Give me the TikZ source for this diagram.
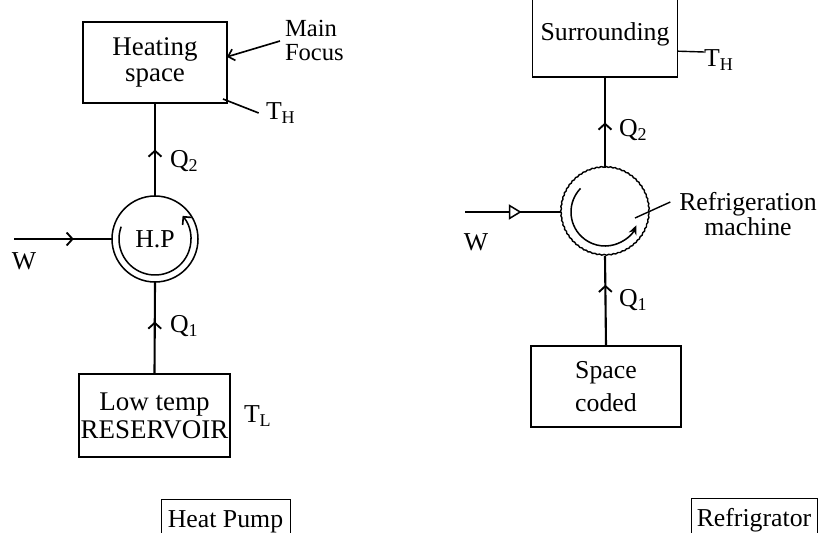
\documentclass[tikz,border=0pt]{standalone}
\usepackage{fontspec}
\setmainfont{Liberation Serif}
\usetikzlibrary{arrows.meta, calc, positioning, decorations.markings, decorations.pathmorphing}

\begin{document}
\begin{tikzpicture}[x=0.03cm, y=-0.03cm,
  every node/.style={font=\fontsize{22}{24}\selectfont, inner sep=0pt, outer sep=0pt},
  box/.style={draw, line width=1.3pt, align=center},
  titlebox/.style={draw, line width=0.8pt, anchor=north, minimum height=1.36cm},
  flow/.style={line width=1.8pt},
  barb/.style={-{Straight Barb[length=5pt, width=10pt, line width=1.4pt]}},
  vmark/.style={postaction={decorate}, decoration={markings,
    mark=at position #1 with {\arrow{Straight Barb[length=5pt, width=11pt, line width=1.6pt]}}}},
  tmark/.style={postaction={decorate}, decoration={markings,
    mark=at position #1 with {\arrow{Triangle[open, length=11pt, width=13pt, line width=1.3pt, fill=white]}}}}
]
\useasboundingbox (0,0) rectangle (819,532);

% ---------- Heat pump ----------
\node[box, minimum width=4.32cm, minimum height=2.43cm,
  font=\fontsize{23}{21.5}\selectfont] (hs) at (155,62.5) {Heating\\space};
\node[circle, draw, line width=1.3pt, minimum size=2.58cm] (hp) at (155,239) {H.P};
\node[box, minimum width=4.53cm, minimum height=2.49cm,
  font=\fontsize{23}{24}\selectfont] (lt) at (154.5,415.5) {Low temp\\RESERVOIR};

% inner cycle arrow
\draw[line width=1.3pt, barb] ($(hp.center)+(160:1.08cm)$)
  arc[start angle=160, end angle=400, radius=1.08cm];

% heat flows and work
\draw[flow, vmark=0.5] (hp.north) -- (hs.south);
\draw[flow, vmark=0.57] (lt.north) -- (hp.south);
\coordinate (wl) at (14,239);
\draw[flow, vmark=0.61] (wl) -- (hp.west);

\node[anchor=west] (q2l) at (170,161) {Q\textsubscript{2}};
\node[anchor=west] (q1l) at (170,326) {Q\textsubscript{1}};
\node (wlab) at (24,261) {W};

% labels round the boxes
\node[anchor=north west, align=left, font=\fontsize{21}{21}\selectfont] (mf) at (285,20) {Main\\Focus};
\coordinate (mfa) at (280,41);
\draw[line width=1.4pt, barb] (mfa) -- ([yshift=0.17cm]hs.east);
\node[anchor=west] (thl) at (266,113) {T\textsubscript{H}};
\draw[line width=1.4pt] ([shift={(-4,-4)}]hs.south east) -- ([xshift=-0.22cm]thl.west);
\node[anchor=west] (tl) at (244,416) {T\textsubscript{L}};

\node[titlebox, minimum width=3.87cm] (hpt) at (225.5,499) {Heat Pump};

% ---------- Refrigerator ----------
\node[box, minimum width=4.35cm, minimum height=2.55cm] (sur) at (605,34.5) {Surrounding};
\node[circle, minimum size=2.64cm] (rm) at (605,212) {};
\draw[line width=1.2pt, decorate, decoration={snake, amplitude=0.35pt, segment length=4pt}]
  (rm.center) circle[radius=1.32cm];
\node[box, minimum width=4.5cm, minimum height=2.43cm,
  font=\fontsize{22}{28}\selectfont] (sc) at (606,386.5) {Space\\coded};

% inner cycle arrow
\draw[line width=1.3pt, -{Stealth[length=8pt, width=7pt]}] ($(rm.center)+(136:1.02cm)$)
  arc[start angle=136, end angle=337, radius=1.02cm];

% heat flows and work
\draw[flow, vmark=0.5] (rm.north) -- (sur.south);
\draw[flow, vmark=0.68] (sc.north) -- (rm.south);
\coordinate (wr) at (465,212);
\draw[flow, tmark=0.59] (wr) -- (rm.west);

\node[anchor=west] (q2r) at (619,130) {Q\textsubscript{2}};
\node[anchor=west] (q1r) at (619,300) {Q\textsubscript{1}};
\node (wrlab) at (476,242) {W};

% labels
\node[anchor=west] (thr) at (704,60) {T\textsubscript{H}};
\draw[line width=1.2pt] ([yshift=-0.5cm]sur.east) -- ([yshift=0.24cm]thr.west);
\node[align=center, font=\fontsize{22}{22}\selectfont] (rmt) at (748,214) {Refrigeration\\machine};
\coordinate (rml) at (635,218);
\draw[line width=1.2pt] (rml) -- ([shift={(-0.27cm,0.36cm)}]rmt.west);

\node[titlebox, minimum width=3.78cm] (rft) at (754,498) {Refrigrator};
\end{tikzpicture}
\end{document}
